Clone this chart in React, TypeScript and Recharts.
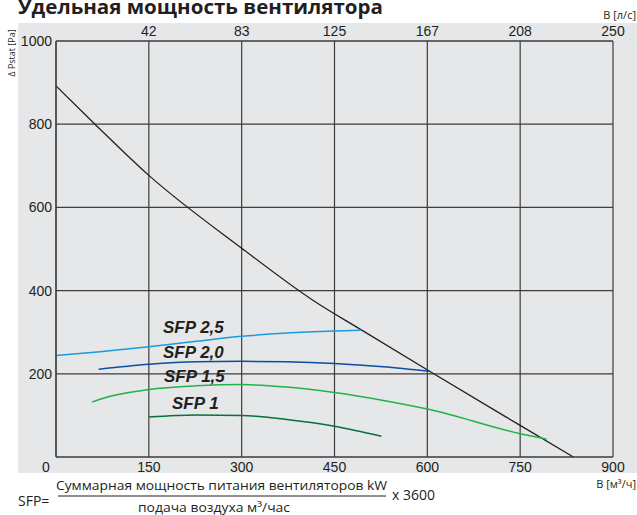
import React from "react";
import {
  LineChart,
  Line,
  XAxis,
  YAxis,
  CartesianGrid,
} from "recharts";

// расход воздуха, м³/ч
const xTicks = [0, 150, 300, 450, 600, 750, 900];
const yTicks = [0, 200, 400, 600, 800, 1000];
// те же позиции в л/с (верхняя шкала)
const topTicks = [150, 300, 450, 600, 750, 900];
const topTickLabels = ["42", "83", "125", "167", "208", "250"];

// характеристика вентилятора
const fanX = [0, 63, 150, 300, 415, 494, 607, 750, 836];
const fanY = [892, 800, 677, 502, 377, 305, 203, 76, 0];

// линии SFP
const sfp25X = [0, 71, 150, 227, 300, 373, 450, 494];
const sfp25Y = [244, 253, 265, 278, 290, 298, 303, 305];

const sfp20X = [69, 150, 227, 300, 373, 450, 529, 604];
const sfp20Y = [211, 223, 229, 230, 229, 225, 217, 206];

const sfp15X = [58, 71, 150, 227, 300, 373, 450, 529, 604, 750, 793];
const sfp15Y = [132, 139, 162, 171, 174, 168, 155, 136, 114, 56, 43];

const sfp10X = [150, 227, 300, 373, 450, 526];
const sfp10Y = [96, 101, 100, 90, 74, 50];

const series = [
  { name: "fan", xs: fanX, ys: fanY, color: "#231f20", width: 1.3 },
  { name: "SFP 2,5", xs: sfp25X, ys: sfp25Y, color: "#1a9be0", width: 1.5 },
  { name: "SFP 2,0", xs: sfp20X, ys: sfp20Y, color: "#0b4ea2", width: 1.5 },
  { name: "SFP 1,5", xs: sfp15X, ys: sfp15Y, color: "#22b14c", width: 1.5 },
  { name: "SFP 1", xs: sfp10X, ys: sfp10Y, color: "#08703b", width: 1.5 },
];

const fanData = fanX.map((x, i) => ({ x, y: fanY[i] }));

const tickFont = "'Liberation Sans', Arial, sans-serif";
const textFont = "'Open Sans', 'Noto Sans', sans-serif";

const BottomTick = (props: any) => {
  const { x, y, payload } = props;
  const dx = payload.value === 0 ? -10 : 0;
  return (
    <text x={x + dx} y={y + 15} textAnchor='middle' fontSize={14} fontFamily={tickFont} fill='#231f20'>
      {payload.value}
    </text>
  );
};

const TopTick = (props: any) => {
  const { x, y, payload } = props;
  const i = topTicks.indexOf(payload.value);
  return (
    <text x={x} y={y - 5} textAnchor='middle' fontSize={14} fontFamily={tickFont} fill='#231f20'>
      {i >= 0 ? topTickLabels[i] : ""}
    </text>
  );
};

const LeftTick = (props: any) => {
  const { x, y, payload } = props;
  if (payload.value === 0) return <g />;
  return (
    <text x={x - 4} y={y + 5} textAnchor='end' fontSize={14} fontFamily={tickFont} fill='#231f20'>
      {payload.value}
    </text>
  );
};

export default function App() {
  return (
    <div style={{ position: "absolute", left: 0, top: 0, width: 637, height: 515, background: "#fff", overflow: "hidden" }}>
      {/* серый фон под графиком */}
      <div style={{ position: "absolute", left: 18, top: 23, width: 619, height: 450, background: "#e6e7e8" }} />
      <div style={{ position: "absolute", left: 0, top: 0 }}>
        <LineChart width={637} height={515} margin={{ top: 21, right: 24, bottom: 38, left: 16 }}>
          <CartesianGrid stroke='#3d3d3d' strokeWidth={1.2} />
          <XAxis
            type='number'
            dataKey='x'
            domain={[0, 900]}
            ticks={xTicks}
            height={20}
            tickSize={0}
            tickMargin={0}
            tickLine={false}
            axisLine={{ stroke: "#3d3d3d", strokeWidth: 1.2 }}
            tick={<BottomTick />}
            allowDataOverflow
          />
          <XAxis
            xAxisId='top'
            orientation='top'
            type='number'
            dataKey='x'
            domain={[0, 900]}
            ticks={topTicks}
            height={20}
            tickSize={0}
            tickMargin={0}
            tickLine={false}
            axisLine={{ stroke: "#3d3d3d", strokeWidth: 1.2 }}
            tick={<TopTick />}
            allowDataOverflow
          />
          <YAxis
            type='number'
            domain={[0, 1000]}
            ticks={yTicks}
            width={40}
            tickSize={0}
            tickMargin={0}
            tickLine={false}
            axisLine={{ stroke: "#3d3d3d", strokeWidth: 1.2 }}
            tick={<LeftTick />}
          />
          {/* невидимая линия для верхней шкалы (л/с) */}
          <Line
            xAxisId='top'
            data={fanData}
            dataKey='y'
            stroke='none'
            dot={false}
            activeDot={false}
            isAnimationActive={false}
          />
          {series.map((s) => (
            <Line
              key={s.name}
              data={s.xs.map((x, i) => ({ x, y: s.ys[i] }))}
              dataKey='y'
              type='monotone'
              stroke={s.color}
              strokeWidth={s.width}
              dot={false}
              activeDot={false}
              isAnimationActive={false}
            />
          ))}
        </LineChart>
      </div>
      <svg width={637} height={515} style={{ position: "absolute", left: 0, top: 0, pointerEvents: "none" }}>
        <text x={18} y={14} fontSize={19} fontWeight={700} fontFamily={textFont} fill='#231f20' textLength={365} lengthAdjust='spacingAndGlyphs'>
          Удельная мощность вентилятора
        </text>
        <text transform='translate(15,53) rotate(-90)' textAnchor='middle' fontSize={9} fontFamily={textFont} fill='#231f20'>
          Δ Pstat [Pa]
        </text>
        <text x={636} y={19} textAnchor='end' fontSize={11} fontFamily={textFont} fill='#231f20'>
          B [л/с]
        </text>
        <text x={636} y={488} textAnchor='end' fontSize={11} fontFamily={textFont} fill='#231f20'>
          B [м³/ч]
        </text>
        {/* подписи SFP */}
        <g fontFamily={tickFont} fontWeight={700} fontStyle='italic' fontSize={17} fill='#231f20'>
          <text x={163} y={333}>SFP 2,5</text>
          <text x={163} y={358}>SFP 2,0</text>
          <text x={164} y={382}>SFP 1,5</text>
          <text x={172} y={409}>SFP 1</text>
        </g>
        {/* формула */}
        <g fontFamily={textFont} fill='#231f20'>
          <text x={18} y={506} fontSize={14}>SFP=</text>
          <text x={56} y={490} fontSize={13} textLength={331} lengthAdjust='spacingAndGlyphs'>
            Суммарная мощность питания вентиляторов kW
          </text>
          <line x1={58} y1={496} x2={386} y2={496} stroke='#231f20' strokeWidth={1} />
          <text x={392} y={500} fontSize={14}>x 3600</text>
          <text x={138} y={512} fontSize={13} textLength={152} lengthAdjust='spacingAndGlyphs'>
            подача воздуха м³/час
          </text>
        </g>
      </svg>
    </div>
  );
}
